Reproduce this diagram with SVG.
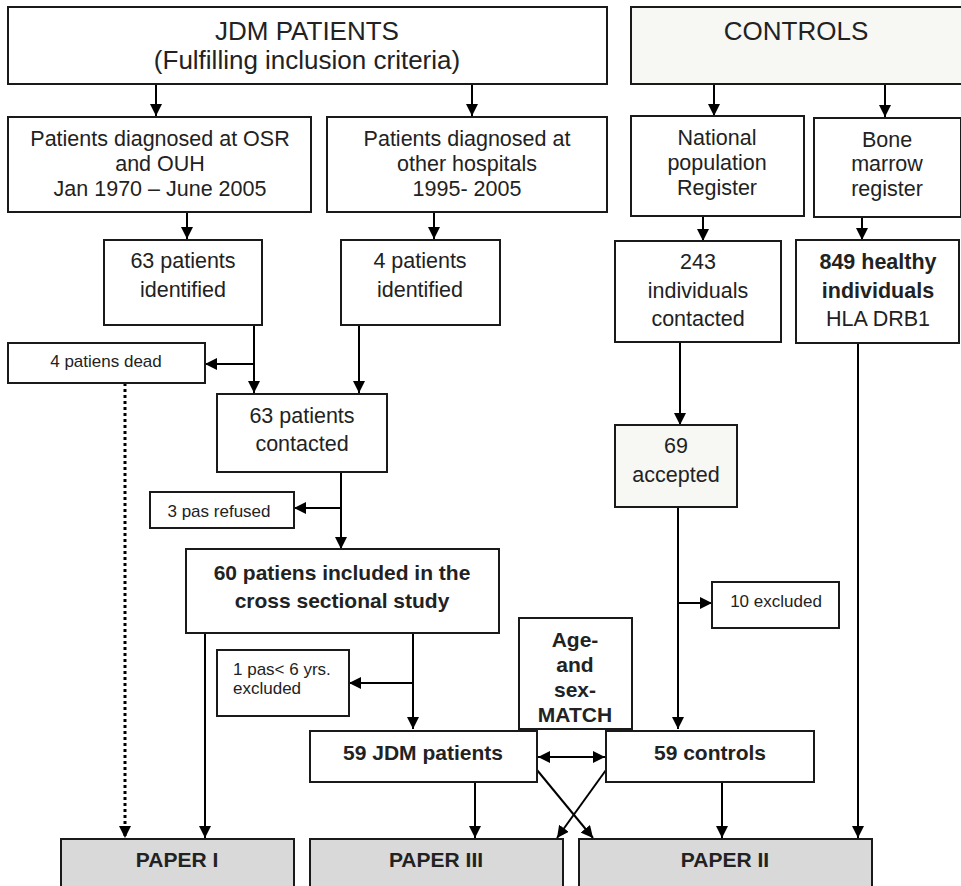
<svg xmlns="http://www.w3.org/2000/svg" width="961" height="886" viewBox="0 0 961 886">
<defs>
<marker id="ah" markerUnits="userSpaceOnUse" markerWidth="12" markerHeight="12" viewBox="0 0 12 12" refX="12" refY="6" orient="auto-start-reverse">
<path d="M0,0 L12,6 L0,12 Z" fill="#000"/>
</marker>
</defs>
<style>
rect{stroke:#1a1a1a;stroke-width:2;fill:#fff}
.g{fill:#f7f7f4}
.p{fill:#d9d9d9}
text{font-family:"Liberation Sans",Arial,sans-serif;fill:#222;text-anchor:middle}
.t{font-size:26px}
.n{font-size:21.5px}
.s{font-size:17px}
.b{font-size:21px;font-weight:bold}
.c line,.c path{stroke:#000;stroke-width:2;fill:none}
.a{marker-end:url(#ah)}
</style>
<rect width="961" height="886" style="fill:#fff;stroke:none"/>
<g class="c">
<line class="a" x1="156" y1="84" x2="156" y2="116"/>
<line class="a" x1="472" y1="84" x2="472" y2="116"/>
<line class="a" x1="714" y1="84" x2="714" y2="116"/>
<line class="a" x1="885" y1="84" x2="885" y2="117"/>
<line class="a" x1="187" y1="212" x2="187" y2="239"/>
<line class="a" x1="434" y1="212" x2="434" y2="239"/>
<line class="a" x1="703" y1="216" x2="703" y2="241"/>
<line class="a" x1="862" y1="205" x2="862" y2="240"/>
<line class="a" x1="254" y1="325" x2="254" y2="393"/>
<line class="a" x1="254" y1="364" x2="205" y2="364"/>
<line class="a" x1="359" y1="325" x2="359" y2="393"/>
<line class="a" x1="341" y1="472" x2="341" y2="549"/>
<line class="a" x1="341" y1="508" x2="294" y2="508"/>
<line class="a" x1="680" y1="342" x2="680" y2="425"/>
<line class="a" x1="678" y1="507" x2="678" y2="729"/>
<line class="a" x1="678" y1="603" x2="712" y2="603"/>
<line class="a" x1="858" y1="343" x2="858" y2="838"/>
<line class="a" x1="125" y1="383" x2="125" y2="838" style="stroke-width:3;stroke-dasharray:3 3"/>
<line class="a" x1="205" y1="633" x2="205" y2="838"/>
<line class="a" x1="413" y1="633" x2="413" y2="729"/>
<line class="a" x1="413" y1="683" x2="349" y2="683"/>
<line class="a" x1="475" y1="782" x2="475" y2="838"/>
<line class="a" x1="722" y1="782" x2="722" y2="838"/>
<line class="a" x1="537" y1="770" x2="593" y2="838"/>
<line class="a" x1="606" y1="770" x2="557" y2="838"/>
<line x1="538" y1="757" x2="605" y2="757" style="marker-start:url(#ah);marker-end:url(#ah)"/>
</g>
<g id="jdm"><rect x="8" y="7" width="599" height="77"/><text class="t" x="307" y="40">JDM PATIENTS</text><text class="t" x="307" y="69">(Fulfilling inclusion criteria)</text></g>
<g id="controls"><rect class="g" x="631" y="7" width="331" height="77"/><text class="t" x="796" y="40">CONTROLS</text></g>
<g id="osr"><rect x="8" y="117" width="303" height="95"/><text class="n" x="160" y="146">Patients diagnosed at OSR</text><text class="n" x="160" y="171">and OUH</text><text class="n" x="160" y="196">Jan 1970 – June 2005</text></g>
<g id="other"><rect x="327" y="117" width="280" height="95"/><text class="n" x="467" y="146">Patients diagnosed at</text><text class="n" x="467" y="171">other hospitals</text><text class="n" x="467" y="196">1995- 2005</text></g>
<g id="natreg"><rect x="631" y="116" width="173" height="100"/><text class="n" x="717" y="145">National</text><text class="n" x="717" y="170">population</text><text class="n" x="717" y="195">Register</text></g>
<g id="bone"><rect x="814" y="118" width="147" height="99"/><text class="n" x="887" y="147">Bone</text><text class="n" x="887" y="171">marrow</text><text class="n" x="887" y="196">register</text></g>
<g id="id63"><rect x="104" y="240" width="158" height="85"/><text class="n" x="183" y="268">63 patients</text><text class="n" x="183" y="297">identified</text></g>
<g id="id4"><rect x="341" y="240" width="159" height="85"/><text class="n" x="420" y="268">4 patients</text><text class="n" x="420" y="297">identified</text></g>
<g id="c243"><rect x="615" y="241" width="166" height="101"/><text class="n" x="698" y="269">243</text><text class="n" x="698" y="298">individuals</text><text class="n" x="698" y="326">contacted</text></g>
<g id="h849"><rect x="796" y="240" width="163" height="103"/><text class="b" x="878" y="269" style="font-size:21.5px">849 healthy</text><text class="b" x="878" y="298" style="font-size:21.5px">individuals</text><text class="n" x="878" y="326">HLA DRB1</text></g>
<g id="dead"><rect x="8" y="343" width="197" height="40"/><text class="s" x="106" y="367">4 patiens dead</text></g>
<g id="contacted"><rect x="217" y="394" width="170" height="78"/><text class="n" x="302" y="423">63 patients</text><text class="n" x="302" y="451">contacted</text></g>
<g id="refused"><rect x="150" y="492" width="144" height="36"/><text class="s" x="219" y="517">3 pas refused</text></g>
<g id="accepted"><rect class="g" x="615" y="425" width="122" height="82"/><text class="n" x="676" y="453">69</text><text class="n" x="676" y="482">accepted</text></g>
<g id="included"><rect x="186" y="549" width="313" height="84"/><text class="b" x="342" y="580">60 patiens included in the</text><text class="b" x="342" y="608">cross sectional study</text></g>
<g id="excl10"><rect x="712" y="582" width="127" height="46"/><text class="s" x="776" y="607">10 excluded</text></g>
<g id="excl1"><rect x="217" y="650" width="132" height="66"/><text class="s" x="233" y="675" style="text-anchor:start">1 pas&lt; 6 yrs.</text><text class="s" x="233" y="694" style="text-anchor:start">excluded</text></g>
<g id="match"><rect x="519" y="618" width="113" height="111"/><text class="b" x="575" y="647">Age-</text><text class="b" x="575" y="672">and</text><text class="b" x="575" y="697">sex-</text><text class="b" x="575" y="722">MATCH</text></g>
<g id="jdm59"><rect x="310" y="731" width="227" height="51"/><text class="b" x="423" y="760">59 JDM patients</text></g>
<g id="ctl59"><rect x="606" y="731" width="208" height="51"/><text class="b" x="710" y="760">59 controls</text></g>
<g id="paper1"><rect class="p" x="61" y="839" width="233" height="60"/><text class="b" x="177" y="867">PAPER I</text></g>
<g id="paper3"><rect class="p" x="310" y="839" width="253" height="60"/><text class="b" x="436" y="867">PAPER III</text></g>
<g id="paper2"><rect class="p" x="579" y="839" width="293" height="60"/><text class="b" x="725" y="867">PAPER II</text></g>
</svg>
